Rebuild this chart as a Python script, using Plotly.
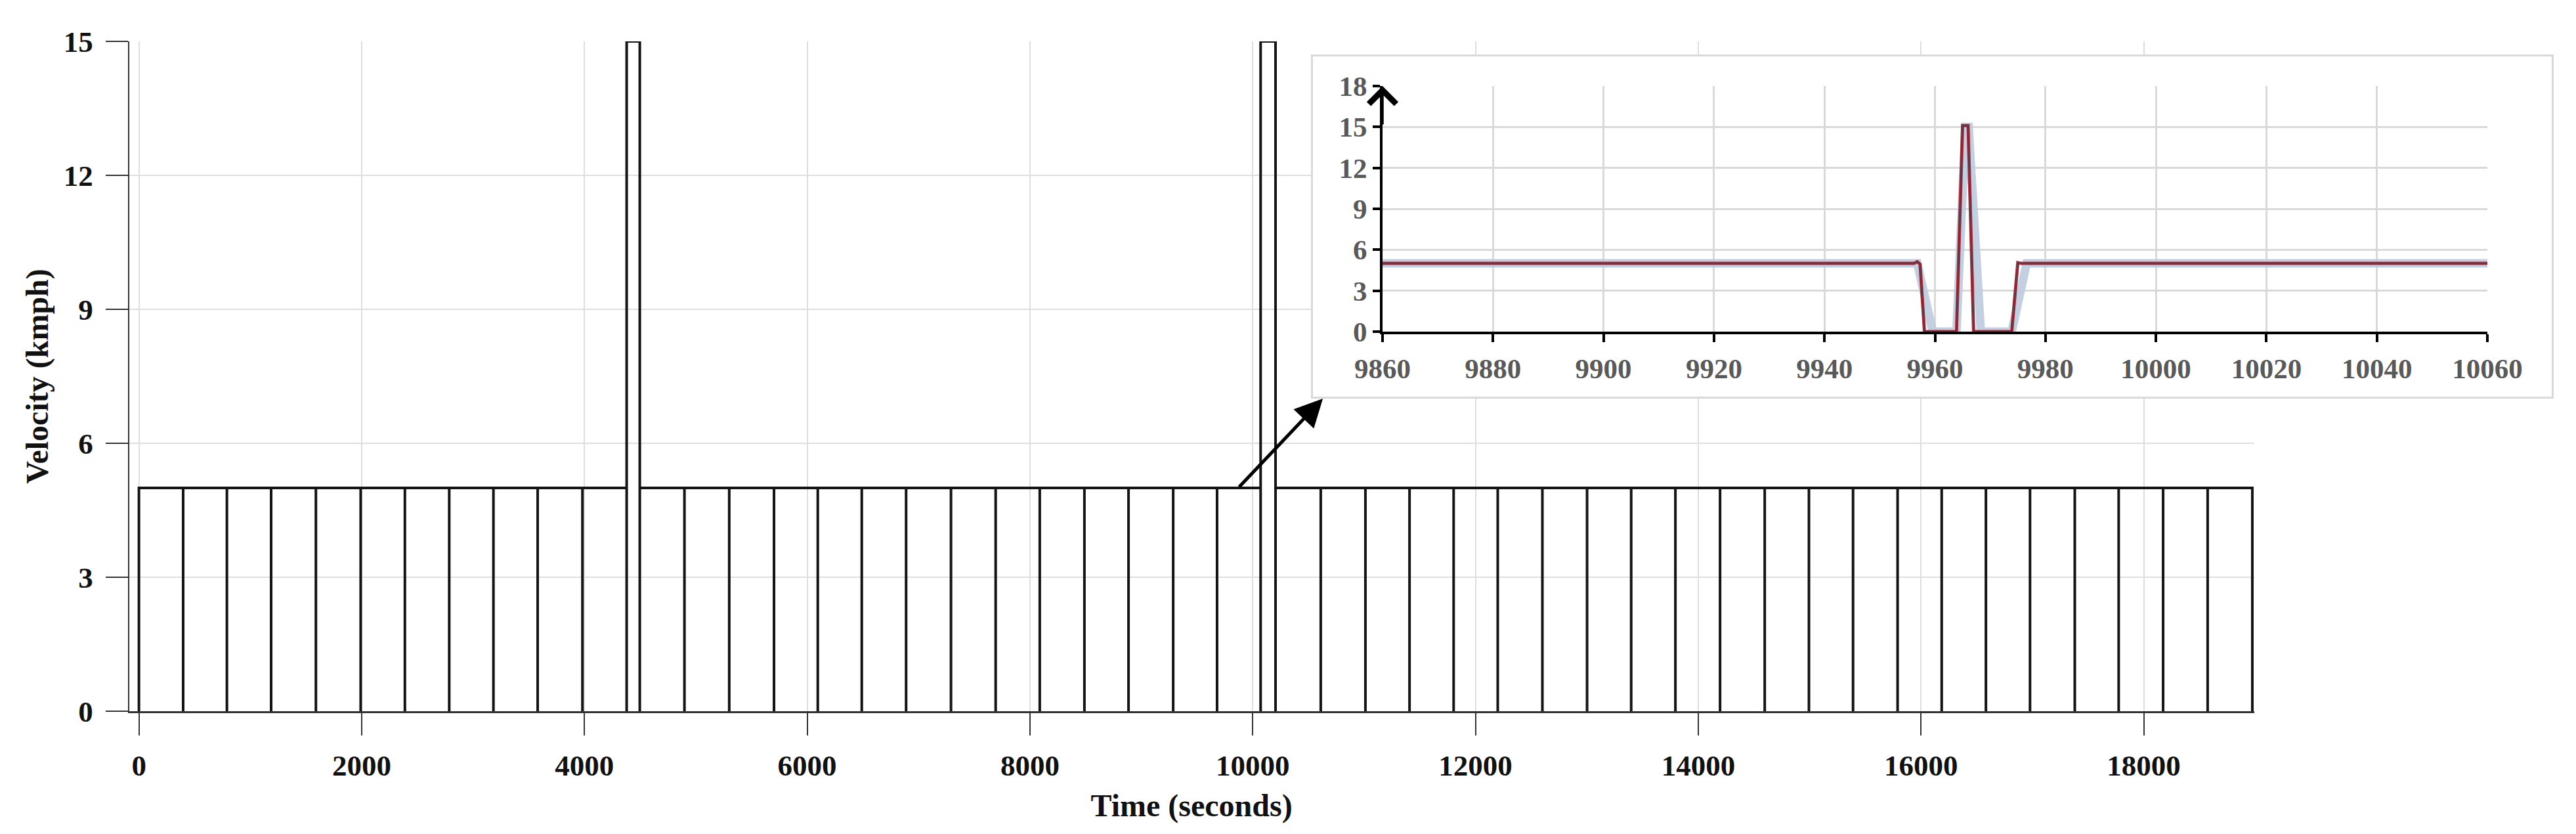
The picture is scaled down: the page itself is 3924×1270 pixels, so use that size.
import plotly.graph_objects as go

# ---------------- data ----------------
# times (s) at which the main speed trace dips to 0 and returns to 5 km/h
dip_times = [397, 790, 1187, 1589, 1991, 2388, 2786, 3183, 3580, 3982,
             4898, 5300, 5702, 6095, 6490, 6888, 7291, 7692, 8088, 8489, 8885, 9286, 9680,
             10611, 11012, 11408, 11804, 12200, 12601, 13002, 13398, 13795, 14196, 14597,
             14994, 15390, 15790, 16186, 16583, 16979, 17381, 17775, 18174, 18574]
spike_starts = [4379, 10071]
spike_ends = [4497, 10205]
cycle_speed = 5
spike_speed = 15
start_time = 0
end_time = 18975

# zoomed inset (9860 - 10060 s)
inset_t_a = [9860, 9956.8, 9959.6, 9963.9, 9965.5, 9966.1, 9968.3, 9973.9, 9976.6, 10060]
inset_v_a = [5, 5, 0, 0, 15, 15, 0, 0, 5, 5]
inset_t_b = [9860, 9956.2, 9956.8, 9957.3, 9958.1, 9963.9, 9965.0, 9966.0, 9967.0, 9973.9, 9975.0, 9975.6, 10060]
inset_v_b = [5, 5, 5.13, 4.95, 0, 0, 15.1, 15.1, 0, 0, 5.05, 5, 5]

main_xticks = [0, 2000, 4000, 6000, 8000, 10000, 12000, 14000, 16000, 18000]
main_yticks = [0, 3, 6, 9, 12, 15]
inset_xticks = [9860, 9880, 9900, 9920, 9940, 9960, 9980, 10000, 10020, 10040, 10060]
inset_yticks = [0, 3, 6, 9, 12, 15, 18]

# ---------------- build step trace ----------------
events = [(t, 'dip', None) for t in dip_times] + \
         [(s, 'spike', e) for s, e in zip(spike_starts, spike_ends)]
events.sort()
tx, vy = [start_time, start_time], [0, cycle_speed]
for t, kind, e in events:
    if kind == 'dip':
        tx += [t, t, t]
        vy += [cycle_speed, 0, cycle_speed]
    else:
        tx += [t, t, t, e, e, e]
        vy += [cycle_speed, 0, spike_speed, spike_speed, 0, cycle_speed]
tx += [end_time, end_time]
vy += [cycle_speed, 0]

# the page body has an 8px margin, so the figure is drawn 8px in and made smaller
OFF = 8
W, H = 3924 - 2 * OFF, 1270 - 2 * OFF
FONT = "Liberation Serif"

def fx(px):
    return (px - OFF) / W

def fy(py):
    return 1 - (py - OFF) / H

fig = go.Figure()

fig.add_trace(go.Scatter(x=tx, y=vy, mode='lines',
                         line=dict(color='#141414', width=4),
                         xaxis='x', yaxis='y', hoverinfo='skip'))

# invisible trace for the inset frame subplot
fig.add_trace(go.Scatter(x=[None], y=[None], mode='lines', xaxis='x2', yaxis='y2',
                         hoverinfo='skip'))

# inset traces
fig.add_trace(go.Scatter(x=inset_t_a, y=inset_v_a, mode='lines',
                         line=dict(color='rgba(190,203,222,0.9)', width=13),
                         xaxis='x3', yaxis='y3', hoverinfo='skip'))
fig.add_trace(go.Scatter(x=inset_t_b, y=inset_v_b, mode='lines',
                         line=dict(color='#c0303c', width=5),
                         xaxis='x3', yaxis='y3', hoverinfo='skip'))
fig.add_trace(go.Scatter(x=inset_t_b, y=inset_v_b, mode='lines',
                         line=dict(color='#6a3442', width=3),
                         xaxis='x3', yaxis='y3', hoverinfo='skip'))

main_tick_font = dict(family=FONT, size=45, color='#111111', weight='bold')
inset_tick_font = dict(family=FONT, size=43, color='#595959', weight='bold')

fig.update_layout(
    width=W, height=H,
    margin=dict(l=0, r=0, t=0, b=0, autoexpand=False),
    paper_bgcolor='white', plot_bgcolor='white',
    showlegend=False,
    xaxis=dict(domain=[fx(196.7), fx(3433.5)], range=[-88, 18990], automargin=False,
               tickvals=main_xticks, tickformat='d', ticks='outside', ticklen=34, tickwidth=2,
               tickcolor='#333333', showline=True, linecolor='#333333', linewidth=3,
               showgrid=True, gridcolor='#dedede', gridwidth=2, zeroline=False,
               tickfont=main_tick_font, anchor='y', ticklabelstandoff=7,
               title=dict(text='Time (seconds)', standoff=20,
                          font=dict(family=FONT, size=48, color='#111111', weight='bold'))),
    yaxis=dict(domain=[fy(1083), fy(63)], range=[0, 15], automargin=False,
               tickvals=main_yticks, tickformat='d', ticks='outside', ticklen=34, tickwidth=2,
               tickcolor='#333333', showline=True, linecolor='#333333', linewidth=2,
               showgrid=True, gridcolor='#dedede', gridwidth=2, zeroline=False,
               tickfont=main_tick_font, anchor='x', ticklabelstandoff=10,
               title=dict(text='Velocity (kmph)', standoff=8,
                          font=dict(family=FONT, size=48, color='#111111', weight='bold'))),
    xaxis2=dict(domain=[fx(2000), fx(3887)], range=[0, 1], anchor='y2', automargin=False,
                showline=True, mirror=True, linecolor='#d9d9d9', linewidth=3,
                showgrid=False, zeroline=False, showticklabels=False, ticks=''),
    yaxis2=dict(domain=[fy(604), fy(86)], range=[0, 1], anchor='x2', automargin=False,
                showline=True, mirror=True, linecolor='#d9d9d9', linewidth=3,
                showgrid=False, zeroline=False, showticklabels=False, ticks=''),
    xaxis3=dict(domain=[fx(2106), fx(3789)], range=[9860, 10060], anchor='y3', automargin=False,
                tickvals=inset_xticks, tickformat='d', ticks='outside', ticklen=12, tickwidth=4,
                tickcolor='black', showline=True, linecolor='black', linewidth=4,
                showgrid=True, gridcolor='#d9d9d9', gridwidth=3, zeroline=False,
                tickfont=inset_tick_font, ticklabelstandoff=3),
    yaxis3=dict(domain=[fy(505), fy(131)], range=[0, 18], anchor='x3', automargin=False,
                tickvals=inset_yticks, tickformat='d', ticks='outside', ticklen=11, tickwidth=4,
                tickcolor='black', showline=True, linecolor='black', linewidth=4,
                showgrid=True, gridcolor='#d9d9d9', gridwidth=3, zeroline=False,
                tickfont=inset_tick_font),
    annotations=[
        dict(xref='x', yref='y', x=10630, y=7.0, axref='x', ayref='y', ax=9870, ay=5,
             text='', showarrow=True, arrowhead=2, arrowsize=1.7, arrowwidth=5,
             arrowcolor='black', standoff=0, startstandoff=0),
        dict(xref='x3', yref='y3', x=9860, y=18, ax=0, ay=60,
             text='', showarrow=True, arrowhead=4, arrowsize=2.3, arrowwidth=3.5,
             arrowcolor='black', standoff=0),
    ],
)

fig.write_html("out.html")
